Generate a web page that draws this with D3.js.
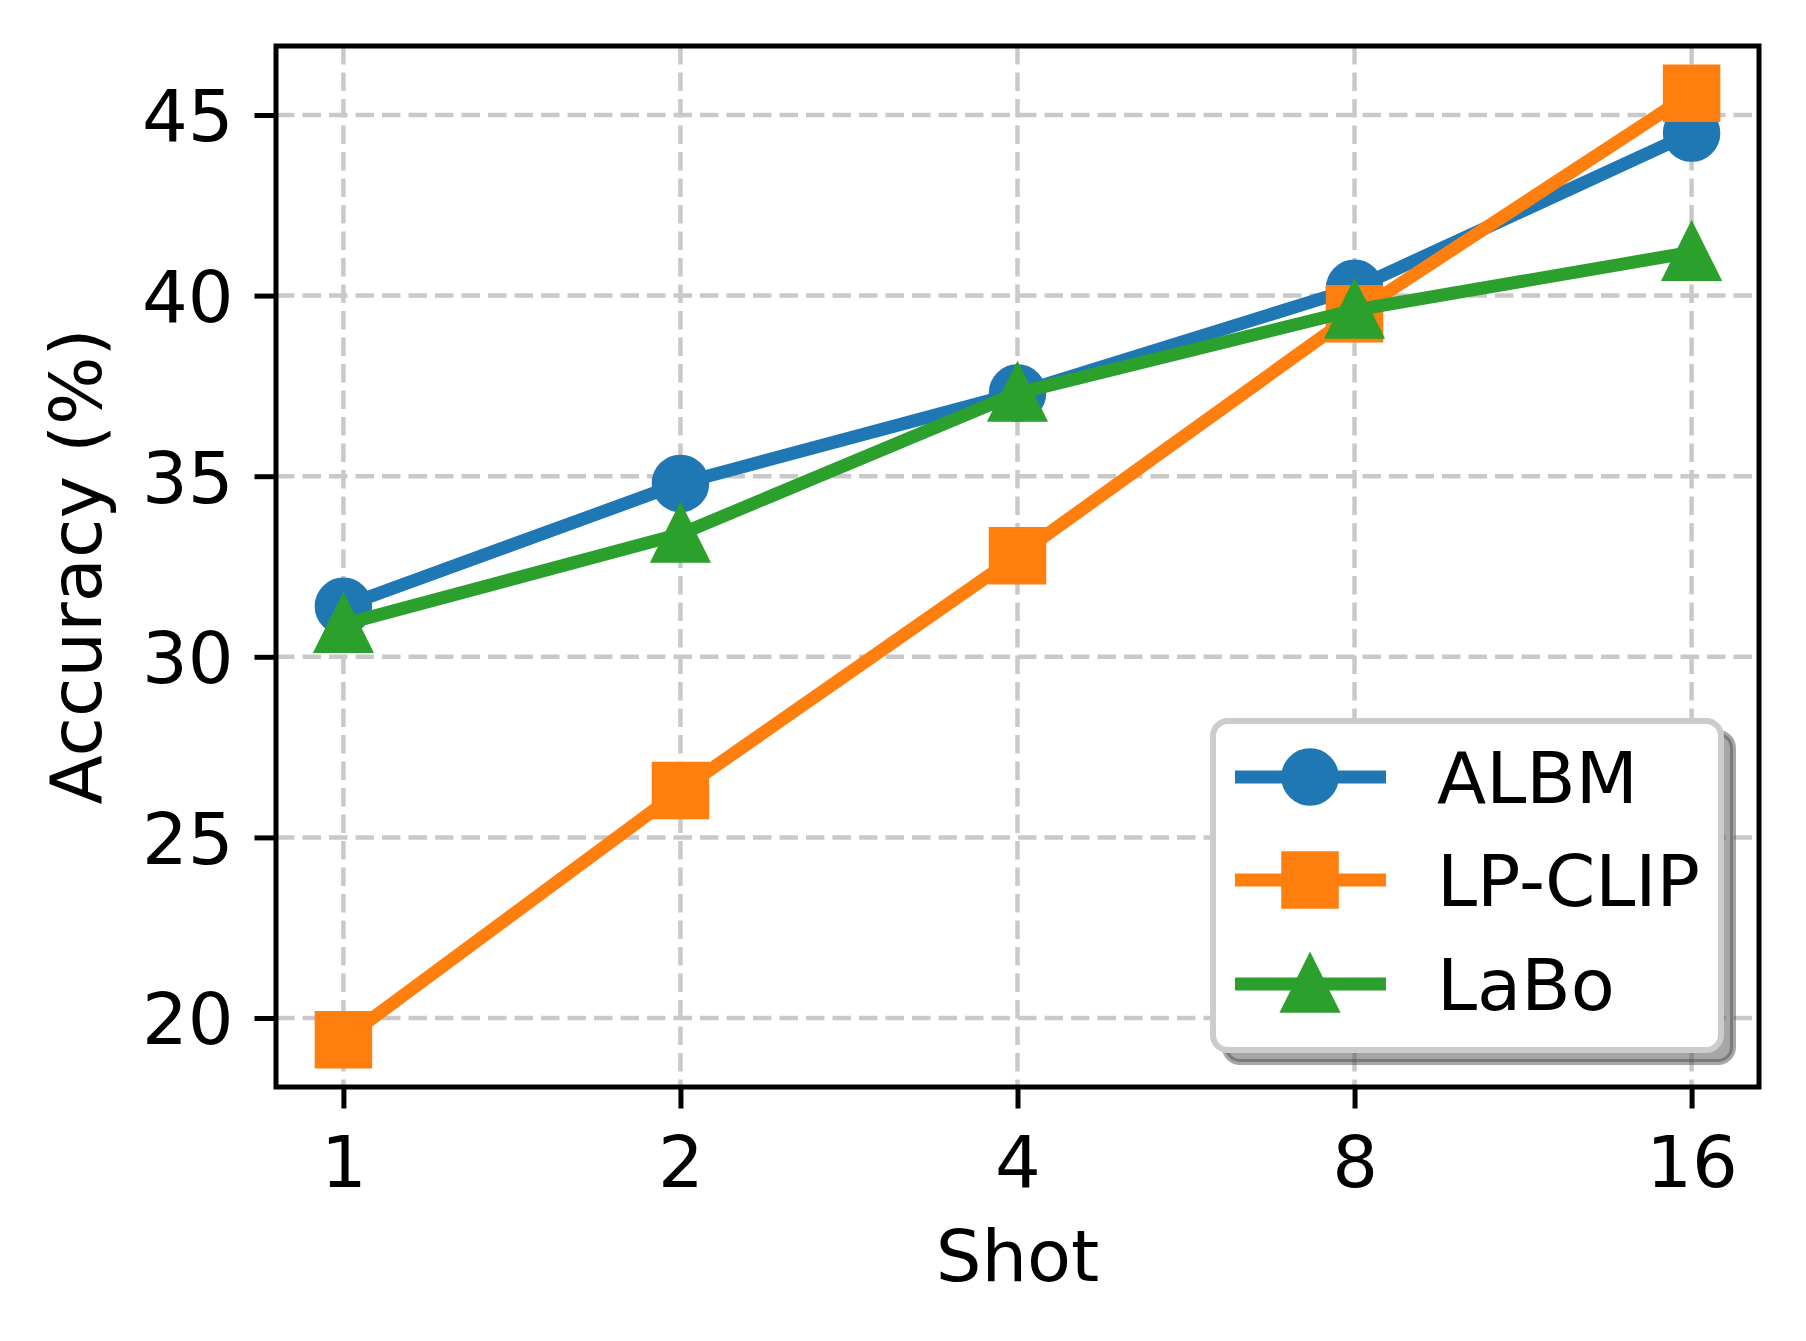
<!DOCTYPE html>
<html>
  <head>
    <meta charset="utf-8">
    <title>Accuracy vs Shot</title>
    <script src="https://cdn.jsdelivr.net/npm/d3@7/dist/d3.min.js"></script>
    <style>
    html, body {
        margin: 0;
        padding: 0;
        background: #fff;
    }
    text {
        font-family: 'DejaVu Sans', sans-serif;
        fill: #000;
    }
    </style>
  </head>
  <body>
    <div id="vis"></div>
    <script>

      // data
      var shots = [1, 2, 4, 8, 16];
      var seriesNames = ['ALBM', 'LP-CLIP', 'LaBo'];
      var albm = [31.4, 34.8, 37.3, 40.2, 44.5];
      var lpclip = [19.4, 26.3, 32.8, 39.5, 45.6];
      var labo = [30.9, 33.4, 37.3, 39.6, 41.2];
      var yTicks = [20, 25, 30, 35, 40, 45];
      var colors = ['#1f77b4', '#ff7f0e', '#2ca02c'];
      var shapes = ['circle', 'square', 'triangle'];

      var width = 1806;
      var height = 1341;
      // plot box (window.top is read-only, so no plain "top")
      var pL = 276, pR = 1759, pT = 46, pB = 1087;
      var fs = 72;

      var svg = d3.select('#vis').append('svg')
          .attr('width', width)
          .attr('height', height);

      // x is log2 with 5% margins, like matplotlib
      var lx = [Math.log2(d3.min(shots)), Math.log2(d3.max(shots))];
      var xpad = (lx[1] - lx[0]) * 0.05;
      var x = d3.scaleLog().base(2)
          .domain([Math.pow(2, lx[0] - xpad), Math.pow(2, lx[1] + xpad)])
          .range([pL, pR]);

      var all = albm.concat(lpclip, labo);
      var ymin = d3.min(all), ymax = d3.max(all);
      var ypad = (ymax - ymin) * 0.05;
      var y = d3.scaleLinear()
          .domain([ymin - ypad, ymax + ypad])
          .range([pB, pT]);

      // grid
      var grid = svg.append('g');
      grid.selectAll('line.gx')
          .data(shots)
          .enter()
          .append('line')
          .attr('x1', function(d) { return x(d); })
          .attr('x2', function(d) { return x(d); })
          .attr('y1', pT)
          .attr('y2', pB);
      grid.selectAll('line.gy')
          .data(yTicks)
          .enter()
          .append('line')
          .attr('x1', pL)
          .attr('x2', pR)
          .attr('y1', function(d) { return y(d); })
          .attr('y2', function(d) { return y(d); });
      grid.selectAll('line')
          .attr('stroke', '#c9c9c9')
          .attr('stroke-width', 4.5)
          .attr('stroke-dasharray', '18.5,8');

      var ms = 51.5;
      function markerPath(shape) {
        var h = ms / 2;
        if (shape == 'square') return 'M' + (-h) + ',' + (-h) + 'H' + h + 'V' + h + 'H' + (-h) + 'Z';
        if (shape == 'triangle') return 'M0,' + (-h) + 'L' + (-h) + ',' + h + 'L' + h + ',' + h + 'Z';
        return 'M' + (-h) + ',0A' + h + ',' + h + ' 0 1,0 ' + h + ',0A' + h + ',' + h + ' 0 1,0 ' + (-h) + ',0Z';
      }

      svg.append('clipPath').attr('id', 'clip')
          .append('rect')
          .attr('x', pL).attr('y', pT)
          .attr('width', pR - pL).attr('height', pB - pT);

      var line = d3.line()
          .x(function(d) { return x(d[0]); })
          .y(function(d) { return y(d[1]); });

      [albm, lpclip, labo].forEach(function(vals, i) {
        var pts = shots.map(function(s, j) { return [s, vals[j]]; });
        var g = svg.append('g');
        g.append('path')
            .attr('d', line(pts))
            .attr('clip-path', 'url(#clip)')
            .attr('fill', 'none')
            .attr('stroke', colors[i])
            .attr('stroke-width', 13)
            .attr('stroke-linejoin', 'round')
            .attr('stroke-linecap', 'square');
        g.selectAll('path.m')
            .data(pts)
            .enter()
            .append('path')
            .attr('class', 'm')
            .attr('transform', function(d) { return 'translate(' + x(d[0]) + ',' + y(d[1]) + ')'; })
            .attr('d', markerPath(shapes[i]))
            .attr('fill', colors[i])
            .attr('stroke', colors[i])
            .attr('stroke-width', 6)
            .attr('stroke-linejoin', 'miter');
      });

      // axes
      var xAxis = svg.append('g')
          .attr('transform', 'translate(0,' + pB + ')')
          .call(d3.axisBottom(x).tickValues(shots).tickFormat(d3.format('d'))
                .tickSize(21.5).tickPadding(24));
      var yAxis = svg.append('g')
          .attr('transform', 'translate(' + pL + ',0)')
          .call(d3.axisLeft(y).tickValues(yTicks).tickSize(21.5).tickPadding(21));
      [xAxis, yAxis].forEach(function(a) {
        a.select('.domain').remove();
        a.selectAll('line').attr('stroke', '#000').attr('stroke-width', 5);
        a.selectAll('text').attr('font-size', fs).attr('font-family', 'DejaVu Sans').attr('fill', '#000');
      });
      xAxis.selectAll('text').attr('dy', null).attr('y', 100);
      yAxis.selectAll('text').attr('dy', '0.36em');

      svg.append('rect')
          .attr('x', pL).attr('y', pT)
          .attr('width', pR - pL).attr('height', pB - pT)
          .attr('fill', 'none')
          .attr('stroke', '#000')
          .attr('stroke-width', 5);

      svg.append('text')
          .attr('x', (pL + pR) / 2)
          .attr('y', 1281)
          .attr('text-anchor', 'middle')
          .attr('font-size', fs)
          .text('Shot');

      svg.append('text')
          .attr('transform', 'translate(101,' + ((pT + pB) / 2) + ') rotate(-90)')
          .attr('text-anchor', 'middle')
          .attr('font-size', fs)
          .text('Accuracy (%)');

      // legend
      var lg = svg.append('g');
      var lx0 = 1213, ly0 = 721, lw = 508, lh = 329;
      lg.append('rect')
          .attr('x', lx0 + 12).attr('y', ly0 + 12)
          .attr('width', lw).attr('height', lh)
          .attr('rx', 15)
          .attr('fill', '#4d4d4d').attr('fill-opacity', 0.5)
          .attr('stroke', '#4d4d4d').attr('stroke-opacity', 0.5)
          .attr('stroke-width', 6);
      lg.append('rect')
          .attr('x', lx0).attr('y', ly0)
          .attr('width', lw).attr('height', lh)
          .attr('rx', 15)
          .attr('fill', '#fff')
          .attr('stroke', '#cccccc')
          .attr('stroke-width', 6);

      var rowY = [777, 880, 984];
      seriesNames.forEach(function(name, i) {
        var r = lg.append('g').attr('transform', 'translate(0,' + rowY[i] + ')');
        r.append('line')
            .attr('x1', 1235).attr('x2', 1386)
            .attr('stroke', colors[i])
            .attr('stroke-width', 13);
        r.append('path')
            .attr('transform', 'translate(1310,0)')
            .attr('d', markerPath(shapes[i]))
            .attr('fill', colors[i])
            .attr('stroke', colors[i])
            .attr('stroke-width', 6);
        r.append('text')
            .attr('x', 1437)
            .attr('y', 26)
            .attr('font-size', fs)
            .text(name);
      });
    </script>
  </body>
</html>
